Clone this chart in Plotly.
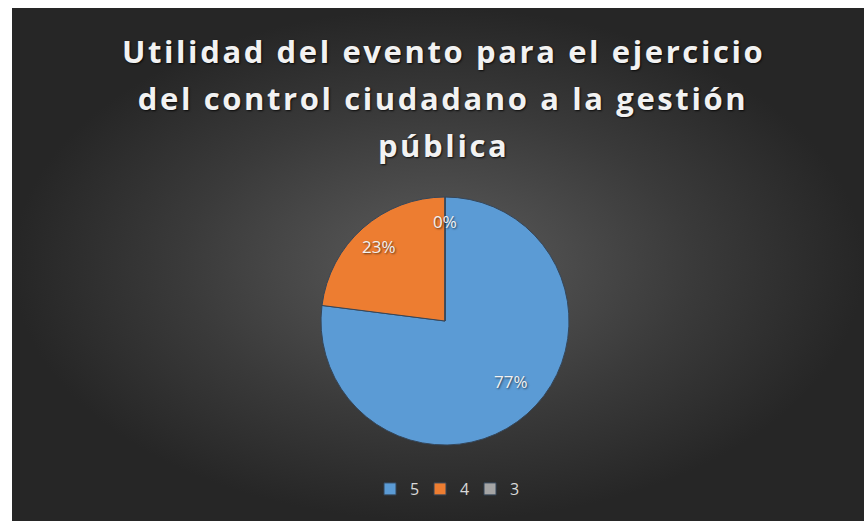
import math
import plotly.graph_objects as go

labels = ["5", "4", "3"]
values = [77, 23, 0]
colors = ["#5B9BD5", "#ED7D31", "#A5A5A5"]
title_lines = ["Utilidad del evento para el ejercicio",
               "del control ciudadano a la gestión",
               "pública"]

W, H = 864, 521
CX, CY, R = 445, 321, 124  # pie centre / radius in px

fig = go.Figure()

# background panel with radial gradient
fig.add_trace(go.Scatter(
    x=[0, 1, 1, 0, 0], y=[0, 0, 1, 1, 0], mode="lines", fill="toself",
    line=dict(width=0), hoverinfo="skip", showlegend=False,
    fillgradient=dict(type="radial",
                      colorscale=[[0, "#5c5c5c"], [0.6, "#3a3a3a"], [1, "#262626"]]),
))

fig.add_trace(go.Pie(
    labels=labels, values=values, sort=False, direction="clockwise", rotation=0,
    marker=dict(colors=colors, line=dict(color="#34465a", width=1)),
    textinfo="none",
    domain=dict(x=[(CX - R) / W, (CX + R) / W], y=[(H - CY - R) / H, (H - CY + R) / H]),
    hoverinfo="label+percent",
))

# data labels placed at each slice's mid-angle (computed from the values)
total = sum(values)
cum = 0
for v in values:
    theta = 2 * math.pi * (cum + v / 2) / total
    cum += v
    r = 0.8 * R
    px = CX + r * math.sin(theta)
    py = CY - r * math.cos(theta)
    fig.add_annotation(
        text=f"{round(100 * v / total)}%", xref="paper", yref="paper",
        x=px / W, y=1 - py / H, showarrow=False,
        font=dict(family="Open Sans", size=17, color="#f2f2f2",
                  shadow="1px 1px 2px rgba(0,0,0,0.6)"),
    )

for i, line in enumerate(title_lines):
    fig.add_annotation(
        text="<b>" + line + "</b>", xref="paper", yref="paper",
        x=443 / W, y=1 - (63 + 47 * i) / H, xanchor="center", yanchor="bottom",
        showarrow=False, yshift=-11,
        font=dict(family="Open Sans", size=31, color="#f2f2f2",
                  shadow="1px 1px 2px rgba(0,0,0,0.8)"),
    )

fig.update_layout(
    width=W, height=H, margin=dict(l=0, r=0, t=0, b=0),
    paper_bgcolor="white", plot_bgcolor="rgba(0,0,0,0)",
    xaxis=dict(domain=[12 / W, 1], range=[0, 1], visible=False, fixedrange=True),
    yaxis=dict(domain=[0, 1 - 8 / H], range=[0, 1], visible=False, fixedrange=True),
    showlegend=True,
    legend=dict(orientation="h", x=445 / W, xanchor="center", y=1 - 489 / H, yanchor="middle",
                font=dict(family="Open Sans", size=16, color="#d9d9d9"),
                bgcolor="rgba(0,0,0,0)", itemwidth=30, entrywidth=5),
)

post = """
document.body.style.margin = '0';
var n = %d;
document.querySelectorAll('.annotation').forEach(function(a){
  var idx = parseInt(a.getAttribute('data-index'));
  if (idx >= n) {
    var t = a.querySelector('.annotation-text');
    if (t) t.style.letterSpacing = '2.6px';
  }
});
""" % len(values)

fig.write_html("out.html", post_script=post, config={"displayModeBar": False})
